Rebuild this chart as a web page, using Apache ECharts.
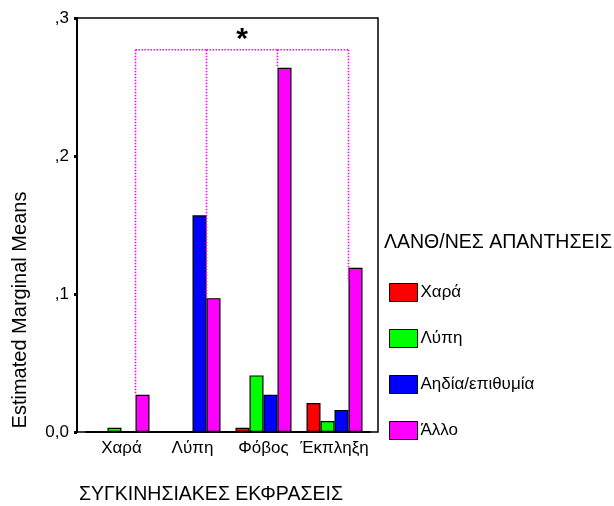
<!DOCTYPE html>
<html>
<head>
<meta charset="utf-8">
<script src="https://cdn.jsdelivr.net/npm/echarts@6/dist/echarts.min.js"></script>
<style>html,body{margin:0;padding:0;background:#fff;}#c{width:614px;height:506px;}</style>
</head>
<body>
<div id="c"></div>
<script>
const categories = ['Χαρά', 'Λύπη', 'Φόβος', 'Έκπληξη'];
const seriesNames = ['Χαρά', 'Λύπη', 'Αηδία/επιθυμία', 'Άλλο'];
const joyValues = [0, 0, 0.003, 0.021];
const sadValues = [0.003, 0, 0.041, 0.008];
const disgustValues = [0, 0.157, 0.027, 0.016];
const otherValues = [0.027, 0.097, 0.264, 0.119];
const bracketEnds = [0.027, 0.097, 0.264, 0.109];
const bracketTop = 0.277;
const yTicks = [0, 0.1, 0.2, 0.3];
const yTickLabels = ['0,0', ',1', ',2', ',3'];
const colors = ['#ff0000', '#00ff00', '#0000ff', '#ff00ff'];
const FONT = 'Liberation Sans, Arial, sans-serif';

const chart = echarts.init(document.getElementById('c'), null, {renderer: 'canvas'});
const valueLists = [joyValues, sadValues, disgustValues, otherValues];
const BW = 14;

const barSeries = seriesNames.map((n, i) => ({
  name: n,
  type: 'bar',
  data: valueLists[i],
  barWidth: BW,
  barGap: '0%',
  itemStyle: {color: colors[i], borderColor: '#000', borderWidth: 1.2},
  emphasis: {disabled: true},
  z: 3
}));

const bracketSeries = {
  type: 'custom',
  name: 'bracket',
  coordinateSystem: 'cartesian2d',
  clip: false,
  z: 5,
  data: bracketEnds.map((v, i) => [i, v, bracketTop]),
  renderItem: function (params, api) {
    const idx = api.value(0);
    const end = api.coord([idx, api.value(1)]);
    const top = api.coord([idx, api.value(2)]);
    const x = end[0] + BW;
    const dash = {stroke: '#ff00ff', lineWidth: 1.6, lineDash: [1.5, 1.5]};
    const children = [{
      type: 'line',
      shape: {x1: x, y1: top[1], x2: x, y2: end[1]},
      style: dash
    }];
    if (idx < categories.length - 1) {
      const nxt = api.coord([idx + 1, api.value(2)]);
      children.push({
        type: 'line',
        shape: {x1: x, y1: top[1], x2: nxt[0] + BW, y2: top[1]},
        style: dash
      });
    }
    if (idx === 1) {
      const nxt = api.coord([idx + 1, api.value(2)]);
      children.push({
        type: 'text',
        style: {
          x: (x + nxt[0] + BW) / 2, y: top[1] - 25,
          text: '*', fill: '#000', font: 'bold 30px ' + FONT,
          textAlign: 'center', textVerticalAlign: 'top'
        }
      });
    }
    return {type: 'group', children: children};
  }
};

const option = {
  animation: false,
  backgroundColor: '#fff',
  color: colors,
  grid: {left: 86, right: 244, top: 18, bottom: 74, containLabel: false},
  xAxis: {
    type: 'category',
    data: categories,
    axisLine: {lineStyle: {color: '#000', width: 2}},
    axisTick: {alignWithLabel: true, length: 3, lineStyle: {color: '#000', width: 3}},
    axisLabel: {color: '#000', fontSize: 17, fontFamily: FONT, margin: 8, interval: 0}
  },
  yAxis: {
    type: 'value',
    min: 0, max: 0.3, interval: 0.1,
    offset: 9,
    splitLine: {show: false},
    axisLine: {show: true, lineStyle: {color: '#000', width: 2}},
    axisTick: {show: true, length: 3, lineStyle: {color: '#000', width: 3}},
    axisLabel: {
      color: '#000', fontSize: 17, fontFamily: FONT, margin: 8,
      formatter: function (v) {
        const k = yTicks.findIndex(t => Math.abs(t - v) < 1e-9);
        return k >= 0 ? yTickLabels[k] : '';
      }
    }
  },
  legend: {
    data: seriesNames,
    orient: 'vertical',
    left: 389, top: 283,
    padding: 0,
    itemWidth: 28, itemHeight: 18, itemGap: 27,
    selectedMode: false,
    icon: 'rect',
    itemStyle: {borderColor: '#000', borderWidth: 1},
    textStyle: {color: '#000', fontSize: 17, fontFamily: FONT, padding: [0, 0, 0, -2]}
  },
  graphic: [
    {type: 'rect', silent: true, z: 10,
     shape: {x: 77, y: 18, width: 301, height: 414},
     style: {fill: 'none', stroke: '#000', lineWidth: 1.5}},
    {type: 'text', silent: true, x: 20, y: 310, rotation: Math.PI / 2,
     style: {text: 'Estimated Marginal Means', fill: '#000', font: '20px ' + FONT, textAlign: 'center', textVerticalAlign: 'middle'}},
    {type: 'text', silent: true, x: 79, y: 495,
     style: {text: 'ΣΥΓΚΙΝΗΣΙΑΚΕΣ ΕΚΦΡΑΣΕΙΣ', fill: '#000', font: '19.5px ' + FONT, textAlign: 'left', textVerticalAlign: 'middle'}},
    {type: 'text', silent: true, x: 384, y: 243,
     style: {text: 'ΛΑΝΘ/ΝΕΣ ΑΠΑΝΤΗΣΕΙΣ', fill: '#000', font: '19.5px ' + FONT, textAlign: 'left', textVerticalAlign: 'middle'}}
  ],
  series: barSeries.concat([bracketSeries])
};
chart.setOption(option);
</script>
</body>
</html>
